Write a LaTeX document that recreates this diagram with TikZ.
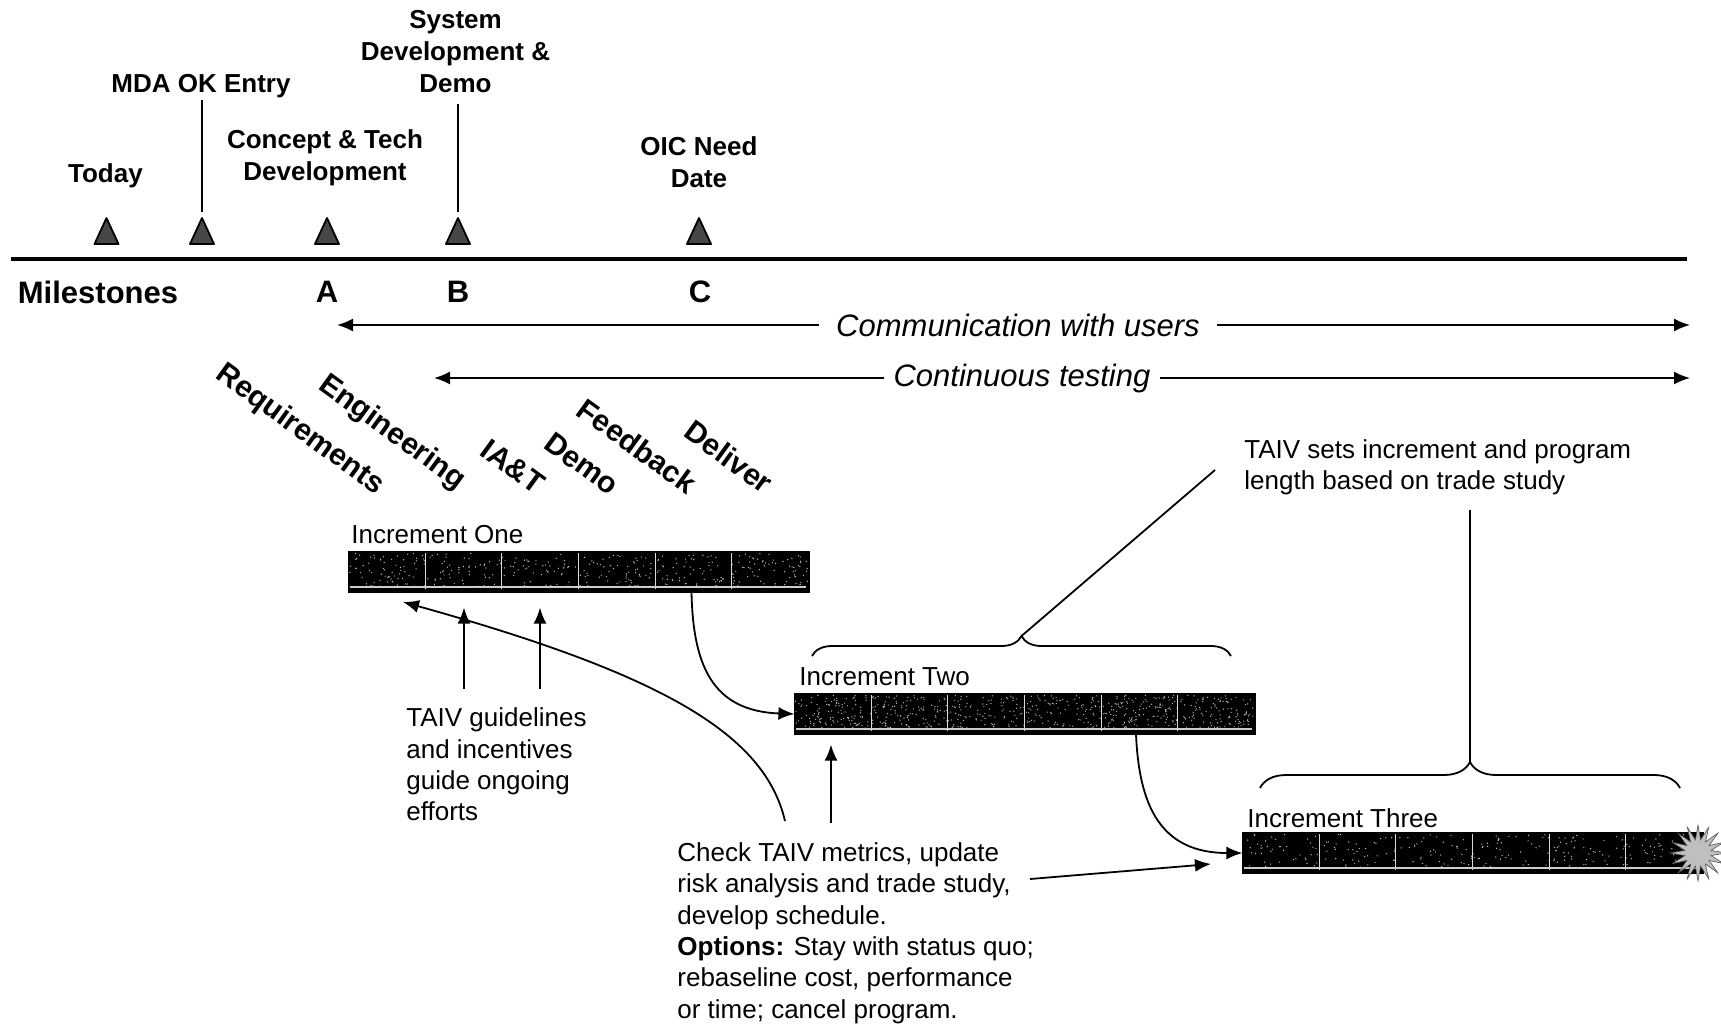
\documentclass[tikz,border=0pt]{standalone}
\usepackage{fontspec}
\setmainfont{Liberation Sans}
\usetikzlibrary{arrows.meta,shapes.geometric,decorations.pathreplacing,calc}

% cell dividers, bottom highlight and speckle texture of an increment bar
\newcommand\barcells[3]{%
  \begin{scope}[shift={(#1.north west)}]
    \foreach \k in {1,...,#2}
      \fill[#3] (1+rnd*458, 2+rnd*34) circle (0.35pt);
    \foreach \k in {1,...,5}
      \draw[white!85!black, line width=0.5pt] (\k*76.67, 2) -- (\k*76.67, 38);
    \draw[white!80!black, line width=0.7pt] (2, 35.5) -- (458, 35.5);
  \end{scope}}

\begin{document}
\begin{tikzpicture}[x=0.5pt, y=-0.5pt,
  lbl/.style={font=\bfseries\fontsize{13}{16}\selectfont, align=center, inner sep=0pt},
  mile/.style={font=\bfseries\fontsize{15.5}{18}\selectfont, inner sep=0pt},
  flow/.style={font=\itshape\fontsize{15.5}{18}\selectfont, inner ysep=0pt},
  phase/.style={font=\bfseries\fontsize{15}{17}\selectfont, rotate=-36, inner sep=0pt},
  note/.style={font=\fontsize{13}{15.7}\selectfont, align=left, inner sep=0pt, anchor=west},
  bar/.style={fill=black, draw=black, line width=0.6pt, minimum width=230pt, minimum height=20pt, inner sep=0pt},
  arr/.style={-{Latex[length=8pt,width=6.5pt]}, line width=0.9pt},
  lead/.style={line width=0.9pt},
  tri/.style={fill=black!72, draw=black, line width=0.9pt, line join=round},
  curly/.style={decorate, line width=0.9pt}]
\pgfmathsetseed{42}
\useasboundingbox (0,0) rectangle (1721,1024);

% ---------- milestone time line ----------
\coordinate (tlL) at (11,259);
\coordinate (tlR) at (1687,259);
\draw[line width=2pt] (tlL) -- (tlR);

\coordinate (mToday) at (106.5,244);
\coordinate (mMDA)   at (202,244);
\coordinate (mA)     at (327,244);
\coordinate (mB)     at (458,244);
\coordinate (mC)     at (699,244);
\foreach \m in {mToday,mMDA,mA,mB,mC}
  \draw[tri] (\m) ++(-12,0) -- ++(12,-26) -- ++(12,26) -- cycle;
\coordinate (apexMDA) at (202,218);
\coordinate (apexB)   at (458,218);

\node[lbl] (today) at (105.4,176) {Today};
\node[lbl] (mda)   at (201,86) {MDA OK Entry};
\node[lbl] (cted)  at (325,158) {Concept \& Tech\\Development};
\node[lbl] (sdd)   at (455.5,52) {System\\Development \&\\Demo};
\node[lbl] (oic)   at (699,162) {OIC Need\\Date};

\draw[lead, shorten <=1pt, shorten >=3pt] (mda.south -| apexMDA) -- (apexMDA);
\draw[lead, shorten <=5pt, shorten >=3pt] (sdd.south -| apexB) -- (apexB);

\node[mile, anchor=west] (miles) at (17.5,292) {Milestones};
\node[mile] (labA) at (327,292) {A};
\node[mile] (labB) at (458,292) {B};
\node[mile] (labC) at (700,292) {C};

% ---------- ongoing activities ----------
\node[flow, inner xsep=8.5pt] (comm) at (1018,325) {Communication with users};
\coordinate (commL) at (337,325);
\coordinate (commR) at (1690,325);
\draw[arr] (comm.west) -- (commL);
\draw[arr] (comm.east) -- (commR);

\node[flow, inner xsep=4.5pt] (test) at (1022,378) {Continuous testing};
\coordinate (testL) at (434,378);
\coordinate (testR) at (1690,378);
\draw[arr] (test.west) -- (testL);
\draw[arr] (test.east) -- (testR);

% ---------- phases of an increment ----------
\node[phase] (req)  at (300,430)   {Requirements};
\node[phase] (eng)  at (392,433)   {Engineering};
\node[phase] (iat)  at (513,466.5) {IA\&T};
\node[phase] (demo) at (582,463.7) {Demo};
\node[phase] (fdbk) at (637,446)   {Feedback};
\node[phase] (dlvr) at (729,456.6) {Deliver};

% ---------- increments ----------
\node[note] (lab1) at (351,534.5) {Increment One};
\node[bar] (inc1) at (579,572) {};
\barcells{inc1}{380}{gray!50}

\node[note] (lab2) at (799,677) {Increment Two};
\node[bar] (inc2) at (1025,714) {};
\barcells{inc2}{700}{gray!60}

\node[note] (lab3) at (1247,817.7) {Increment Three};
\node[bar] (inc3) at (1473,853) {};
\barcells{inc3}{260}{gray!50}
\node[star, star points=16, star point ratio=2.1, minimum size=28pt,
      fill=gray!50, draw=gray!65!black, line width=0.3pt, inner sep=0pt] (burst) at (1698,853) {};

% hand-over between increments
\coordinate (o1) at (691.5,592);
\coordinate (o2) at (1136,734);
\draw[arr] (o1) .. controls (693,665) and (712,711) .. (inc2.west);
\draw[arr] (o2) .. controls (1139,805) and (1160,853) .. (inc3.west);

% ---------- TAIV guidance ----------
\node[note] (guide) at (406,764.5) {TAIV guidelines\\and incentives\\guide ongoing\\efforts};
\coordinate (s1) at (464,689);
\coordinate (s2) at (540,689);
\draw[arr, shorten >=7.5pt] (s1) -- (inc1.south -| s1);
\draw[arr, shorten >=7.5pt] (s2) -- (inc1.south -| s2);

\node[note] (check) at (677,933) {Check TAIV metrics, update\\risk analysis and trade study,\\develop schedule.\\\textbf{Options:} Stay with status quo;\\rebaseline cost, performance\\or time; cancel program.};
\coordinate (chkA) at (785,821);
\coordinate (g0) at (403,602);
\draw[arr] (chkA) .. controls (765,735) and (665,675) .. (g0);
\coordinate (s3) at (831,823);
\draw[arr, shorten >=5pt] (s3) -- (inc2.south -| s3);
\coordinate (riskEnd) at (1030,879);
\coordinate (e4) at (1211,864);
\draw[arr] (riskEnd) -- (e4);

% ---------- increment length braces ----------
\draw[curly, decoration={brace, amplitude=10pt}] (812,656) -- (1231,656);
\draw[curly, decoration={brace, amplitude=13pt}] (1260,788) -- (1680,788);
\coordinate (tip2) at (1021.5,636);
\coordinate (tip3) at (1470,762);

\node[note] (taiv) at (1244,467) {TAIV sets increment and program\\length based on trade study};
\coordinate (lead2) at (1215,470);
\coordinate (lead3) at (1470,510);
\draw[lead] (tip2) -- (lead2);
\draw[lead] (tip3) -- (lead3);
\end{tikzpicture}
\end{document}
